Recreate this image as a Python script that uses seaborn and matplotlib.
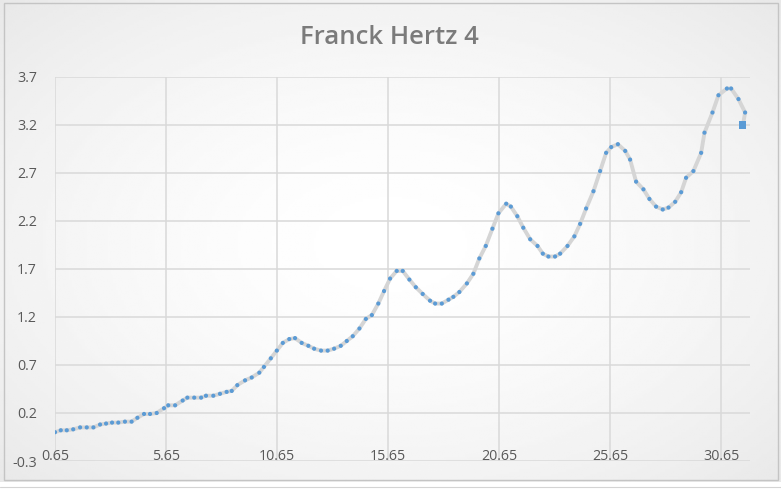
import numpy as np
import pandas as pd
import seaborn as sns
import matplotlib.pyplot as plt
from matplotlib.patches import Rectangle

sns.set_style("white")
plt.rcParams['font.family'] = ['Open Sans', 'DejaVu Sans']

## data
volts = [0.65, 0.91, 1.18, 1.47, 1.78, 2.08, 2.38, 2.68, 2.95, 3.22, 3.50, 3.80, 4.10, 4.36, 4.66, 4.93, 5.23,
         5.56, 5.75, 6.06, 6.40, 6.61, 6.92, 7.23, 7.45, 7.78, 8.08, 8.38, 8.61, 8.86, 9.21, 9.51, 9.85,
         10.06, 10.37, 10.64, 10.91, 11.20, 11.46, 11.76, 12.06, 12.32, 12.63, 12.93, 13.22, 13.52, 13.79, 14.06, 14.36,
         14.65, 14.92, 15.21, 15.47, 15.74, 16.04, 16.31, 16.61, 16.90, 17.21, 17.54, 17.77, 18.07, 18.37, 18.59, 18.86,
         19.20, 19.49, 19.76, 20.05, 20.35, 20.62, 20.97, 21.18, 21.47, 21.74, 22.05, 22.38, 22.62, 22.87, 23.17, 23.40,
         23.73, 24.04, 24.30, 24.57, 24.90, 25.20, 25.47, 25.70, 26.00, 26.33, 26.55, 26.82, 27.15, 27.42, 27.72,
         28.02, 28.28, 28.58, 28.85, 29.07, 29.40, 29.75, 29.90, 30.26, 30.53, 30.91, 31.10, 31.43, 31.73, 31.63]
current = [0.00, 0.02, 0.02, 0.03, 0.05, 0.05, 0.05, 0.08, 0.09, 0.10, 0.10, 0.11, 0.11, 0.15, 0.19, 0.19, 0.20,
           0.25, 0.28, 0.28, 0.33, 0.36, 0.36, 0.36, 0.38, 0.38, 0.40, 0.42, 0.43, 0.49, 0.54, 0.57, 0.62,
           0.68, 0.77, 0.85, 0.93, 0.97, 0.98, 0.93, 0.90, 0.87, 0.85, 0.85, 0.87, 0.90, 0.95, 1.00, 1.08,
           1.18, 1.22, 1.34, 1.47, 1.60, 1.68, 1.68, 1.59, 1.51, 1.44, 1.37, 1.34, 1.34, 1.38, 1.41, 1.46,
           1.55, 1.65, 1.81, 1.94, 2.12, 2.28, 2.38, 2.35, 2.25, 2.13, 2.01, 1.94, 1.86, 1.83, 1.83, 1.86,
           1.94, 2.04, 2.17, 2.33, 2.51, 2.72, 2.91, 2.97, 3.00, 2.93, 2.84, 2.61, 2.53, 2.43, 2.35,
           2.32, 2.34, 2.40, 2.50, 2.65, 2.72, 2.91, 3.12, 3.33, 3.51, 3.58, 3.58, 3.47, 3.33, 3.20]

x_ticks = [0.65, 5.65, 10.65, 15.65, 20.65, 25.65, 30.65]
x_labels = ['0.65', '5.65', '10.65', '15.65', '20.65', '25.65', '30.65']
y_ticks = [-0.3, 0.2, 0.7, 1.2, 1.7, 2.2, 2.7, 3.2, 3.7]
y_labels = ['-0.3', '0.2', '0.7', '1.2', '1.7', '2.2', '2.7', '3.2', '3.7']

df = pd.DataFrame({'V': volts, 'I': current})

fig = plt.figure(figsize=(7.81, 4.90), dpi=100)

# soft excel-like background
bg = fig.add_axes([0, 0, 1, 1], zorder=-5)
yy, xx = np.mgrid[-1:1:200j, -1:1:300j]
rr = np.sqrt(xx**2 + yy**2) / np.sqrt(2)
bg.imshow(1 - 0.09 * rr**1.6, cmap='gray', vmin=0, vmax=1, aspect='auto', extent=[0, 1, 0, 1])
bg.add_patch(Rectangle((4/781, 1 - 480/490), 774/781, 477/490, fill=False, ec='#c4c4c4', lw=1))
bg.add_patch(Rectangle((0, 0), 1, 1 - 482/490, fc='white', ec='none'))
bg.axhline(1 - 487/490, color='#d4d4d4', lw=0.8)
bg.set_xlim(0, 1)
bg.set_ylim(0, 1)
bg.axis('off')

ax = fig.add_axes([55/781, 1 - 461/490, 695/781, 384/490])
ax.set_facecolor('none')

sns.lineplot(data=df, x='V', y='I', sort=False, ax=ax, color='#d5d5d5', lw=2.8, zorder=2)
sns.scatterplot(data=df.iloc[:-1], x='V', y='I', ax=ax, color='#5b9bd5', s=9, edgecolor='none', zorder=3)
sns.scatterplot(data=df.iloc[-1:], x='V', y='I', ax=ax, color='#5b9bd5', s=26, marker='s', edgecolor='none', zorder=4)

ax.set_xlim(0.65, 31.95)
ax.set_ylim(-0.3, 3.7)
ax.set_xticks(x_ticks)
ax.set_xticklabels(x_labels)
ax.set_yticks(y_ticks)
ax.set_yticklabels(y_labels)
ax.grid(True, color='#d9d9d9', lw=1.1)
ax.set_axisbelow(True)

for s in ['top', 'right', 'left']:
    ax.spines[s].set_visible(False)
ax.spines['bottom'].set_position(('data', 0))
ax.spines['bottom'].set_visible(False)
ax.tick_params(axis='both', length=0, labelsize=10.3, labelcolor='#595959')
ax.tick_params(axis='x', pad=12)
ax.tick_params(axis='y', pad=13)
ax.set_xlabel('')
ax.set_ylabel('')

fig.text(0.498, 1 - 38/490, 'Franck Hertz 4', ha='center', va='center', fontsize=18.5, color='#7b7b7b', fontweight='semibold')

fig.savefig('out.png', dpi=100)
